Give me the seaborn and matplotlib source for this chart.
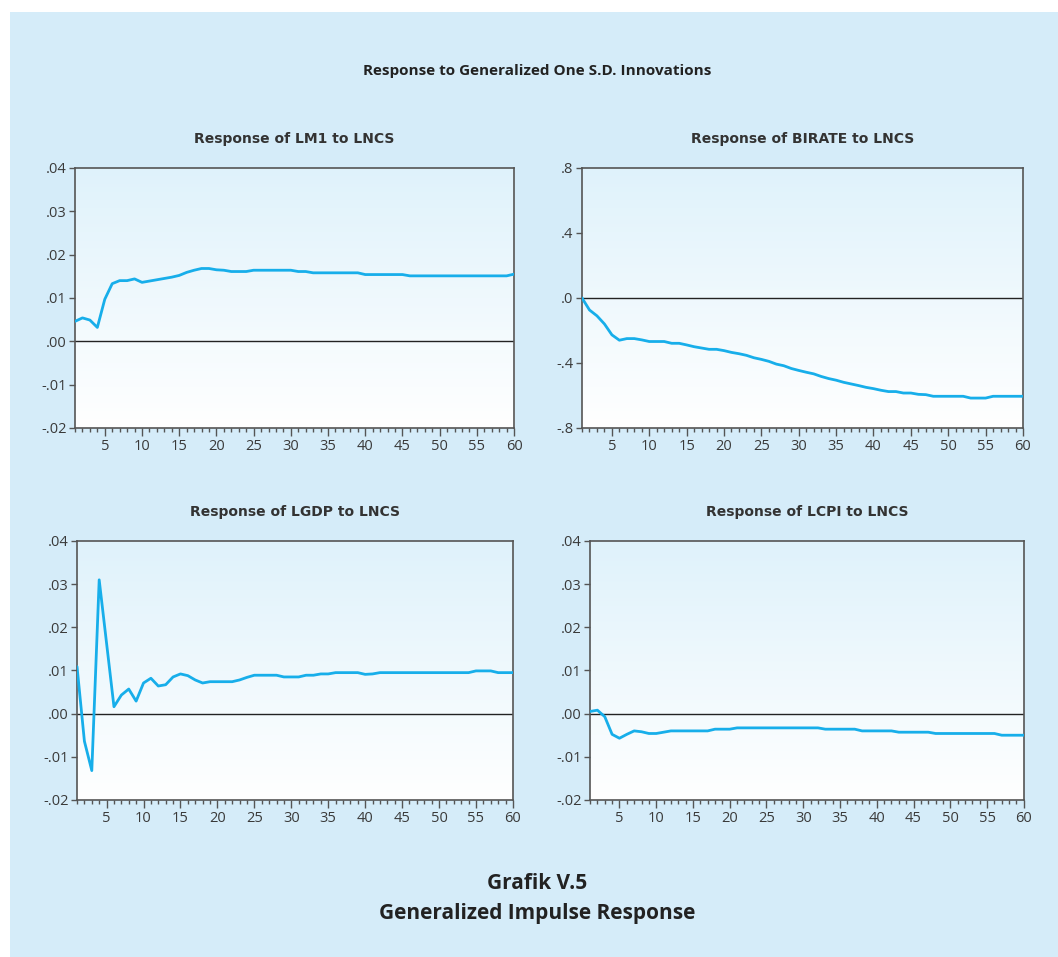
import numpy as np
import pandas as pd
import seaborn as sns
import matplotlib
matplotlib.use('Agg')
import matplotlib.pyplot as plt
from matplotlib.colors import LinearSegmentedColormap
from matplotlib.patches import Rectangle
from matplotlib.ticker import FuncFormatter, MultipleLocator

periods = list(range(1, 61))

lm1 = [0.0046, 0.0054, 0.0049, 0.0032, 0.0097, 0.0133, 0.0140, 0.0140, 0.0144, 0.0136,
       0.0139, 0.0142, 0.0145, 0.0148, 0.0152, 0.0159, 0.0164, 0.0168, 0.0168, 0.0165,
       0.0164, 0.0161, 0.0161, 0.0161, 0.0164, 0.0164, 0.0164, 0.0164, 0.0164, 0.0164,
       0.0161, 0.0161, 0.0158, 0.0158, 0.0158, 0.0158, 0.0158, 0.0158, 0.0158, 0.0154,
       0.0154, 0.0154, 0.0154, 0.0154, 0.0154, 0.0151, 0.0151, 0.0151, 0.0151, 0.0151,
       0.0151, 0.0151, 0.0151, 0.0151, 0.0151, 0.0151, 0.0151, 0.0151, 0.0151, 0.0155]

birate = [0.0, -0.074, -0.11, -0.16, -0.227, -0.26, -0.25, -0.25, -0.258, -0.268,
          -0.268, -0.268, -0.279, -0.279, -0.289, -0.300, -0.308, -0.316, -0.316, -0.324,
          -0.335, -0.343, -0.353, -0.368, -0.378, -0.390, -0.407, -0.417, -0.434, -0.446,
          -0.457, -0.467, -0.483, -0.496, -0.506, -0.519, -0.529, -0.539, -0.550, -0.558,
          -0.568, -0.576, -0.576, -0.585, -0.585, -0.593, -0.595, -0.605, -0.605, -0.605,
          -0.605, -0.605, -0.616, -0.616, -0.616, -0.605, -0.605, -0.605, -0.605, -0.605]

lgdp = [0.0109, -0.0064, -0.0132, 0.0310, 0.0163, 0.0016, 0.0043, 0.0057, 0.0029, 0.0071,
        0.0082, 0.0064, 0.0067, 0.0085, 0.0092, 0.0088, 0.0078, 0.0071, 0.0074, 0.0074,
        0.0074, 0.0074, 0.0078, 0.0084, 0.0089, 0.0089, 0.0089, 0.0089, 0.0085, 0.0085,
        0.0085, 0.0089, 0.0089, 0.0092, 0.0092, 0.0095, 0.0095, 0.0095, 0.0095, 0.0091,
        0.0092, 0.0095, 0.0095, 0.0095, 0.0095, 0.0095, 0.0095, 0.0095, 0.0095, 0.0095,
        0.0095, 0.0095, 0.0095, 0.0095, 0.0099, 0.0099, 0.0099, 0.0095, 0.0095, 0.0095]

lcpi = [0.0005, 0.0008, -0.0007, -0.0048, -0.0057, -0.0048, -0.0040, -0.0042, -0.0046, -0.0046,
        -0.0043, -0.0040, -0.0040, -0.0040, -0.0040, -0.0040, -0.0040, -0.0036, -0.0036, -0.0036,
        -0.0033, -0.0033, -0.0033, -0.0033, -0.0033, -0.0033, -0.0033, -0.0033, -0.0033, -0.0033,
        -0.0033, -0.0033, -0.0036, -0.0036, -0.0036, -0.0036, -0.0036, -0.0040, -0.0040, -0.0040,
        -0.0040, -0.0040, -0.0043, -0.0043, -0.0043, -0.0043, -0.0043, -0.0046, -0.0046, -0.0046,
        -0.0046, -0.0046, -0.0046, -0.0046, -0.0046, -0.0046, -0.0050, -0.0050, -0.0050, -0.0050]

titles = ["Response of LM1 to LNCS", "Response of BIRATE to LNCS",
          "Response of LGDP to LNCS", "Response of LCPI to LNCS"]
series = [lm1, birate, lgdp, lcpi]
ylims = [(-0.02, 0.04), (-0.8, 0.8), (-0.02, 0.04), (-0.02, 0.04)]
ysteps = [0.01, 0.4, 0.01, 0.01]
ydecimals = [2, 1, 2, 2]

sns.set_style("white")
plt.rcParams['font.family'] = ['Open Sans', 'DejaVu Sans']

bg = '#d5ecf9'
line_col = '#17aeea'
frame_col = '#555555'

fig = plt.figure(figsize=(10.58, 9.57), dpi=100, facecolor='white')
fig.patches.append(Rectangle((10 / 1058, 0), 1 - 10 / 1058, 1 - 12 / 957,
                             transform=fig.transFigure, facecolor=bg,
                             edgecolor='none', zorder=-10))

positions = [(0.0709, 0.5528, 0.415, 0.2717),
             (0.5501, 0.5528, 0.4168, 0.2717),
             (0.0728, 0.1641, 0.412, 0.2706),
             (0.5577, 0.1641, 0.410, 0.2706)]

grad_cmap = LinearSegmentedColormap.from_list('g', ['#ffffff', '#dff2fb'])
gradient = np.linspace(0, 1, 256).reshape(-1, 1)


def strip_zero(dec):
    def f(v, pos):
        s = f"{v:.{dec}f}"
        s = s.replace("0.", ".", 1) if s.startswith("0.") else s
        s = s.replace("-0.", "-.", 1)
        return s
    return f


for i in range(4):
    ax = fig.add_axes(positions[i])
    ax.imshow(gradient, extent=[0, 1, 0, 1], transform=ax.transAxes,
              aspect='auto', origin='lower', cmap=grad_cmap, zorder=0)
    df = pd.DataFrame({'period': periods, 'value': series[i]})
    ax.axhline(0, color='#222222', lw=1.0, zorder=2)
    sns.lineplot(data=df, x='period', y='value', ax=ax, color=line_col,
                 lw=2.0, zorder=3)
    ax.set_xlim(1, 60)
    ax.set_ylim(*ylims[i])
    ax.set_xlabel('')
    ax.set_ylabel('')
    ax.xaxis.set_major_locator(MultipleLocator(5))
    ax.xaxis.set_minor_locator(MultipleLocator(1))
    ax.yaxis.set_major_locator(MultipleLocator(ysteps[i]))
    ax.yaxis.set_major_formatter(FuncFormatter(strip_zero(ydecimals[i])))
    ax.tick_params(axis='x', which='major', direction='out', length=6, width=1,
                   color=frame_col, labelsize=10.5, labelcolor='#3a3a3a', pad=2,
                   bottom=True)
    ax.tick_params(axis='x', which='minor', direction='out', length=3, width=1,
                   color=frame_col, bottom=True)
    ax.tick_params(axis='y', which='major', direction='out', length=4, width=1,
                   color=frame_col, labelsize=10.5, labelcolor='#3a3a3a', pad=2,
                   left=True)
    for sp in ax.spines.values():
        sp.set_color(frame_col)
        sp.set_linewidth(1.2)
    ax.set_title(titles[i], fontsize=10, fontweight='bold', color='#333333',
                 pad=18, family=['DejaVu Sans'])

fig.text(0.508, 0.926, "Response to Generalized One S.D. Innovations",
         ha='center', va='center', fontsize=11, fontweight='bold', color='#222222')
fig.text(0.508, 0.077, "Grafik V.5", ha='center', va='center',
         fontsize=15, fontweight='bold', color='#222222')
fig.text(0.508, 0.045, "Generalized Impulse Response", ha='center', va='center',
         fontsize=15, fontweight='bold', color='#222222')

plt.savefig("out.png", dpi=100, facecolor=fig.get_facecolor())
plt.close()
